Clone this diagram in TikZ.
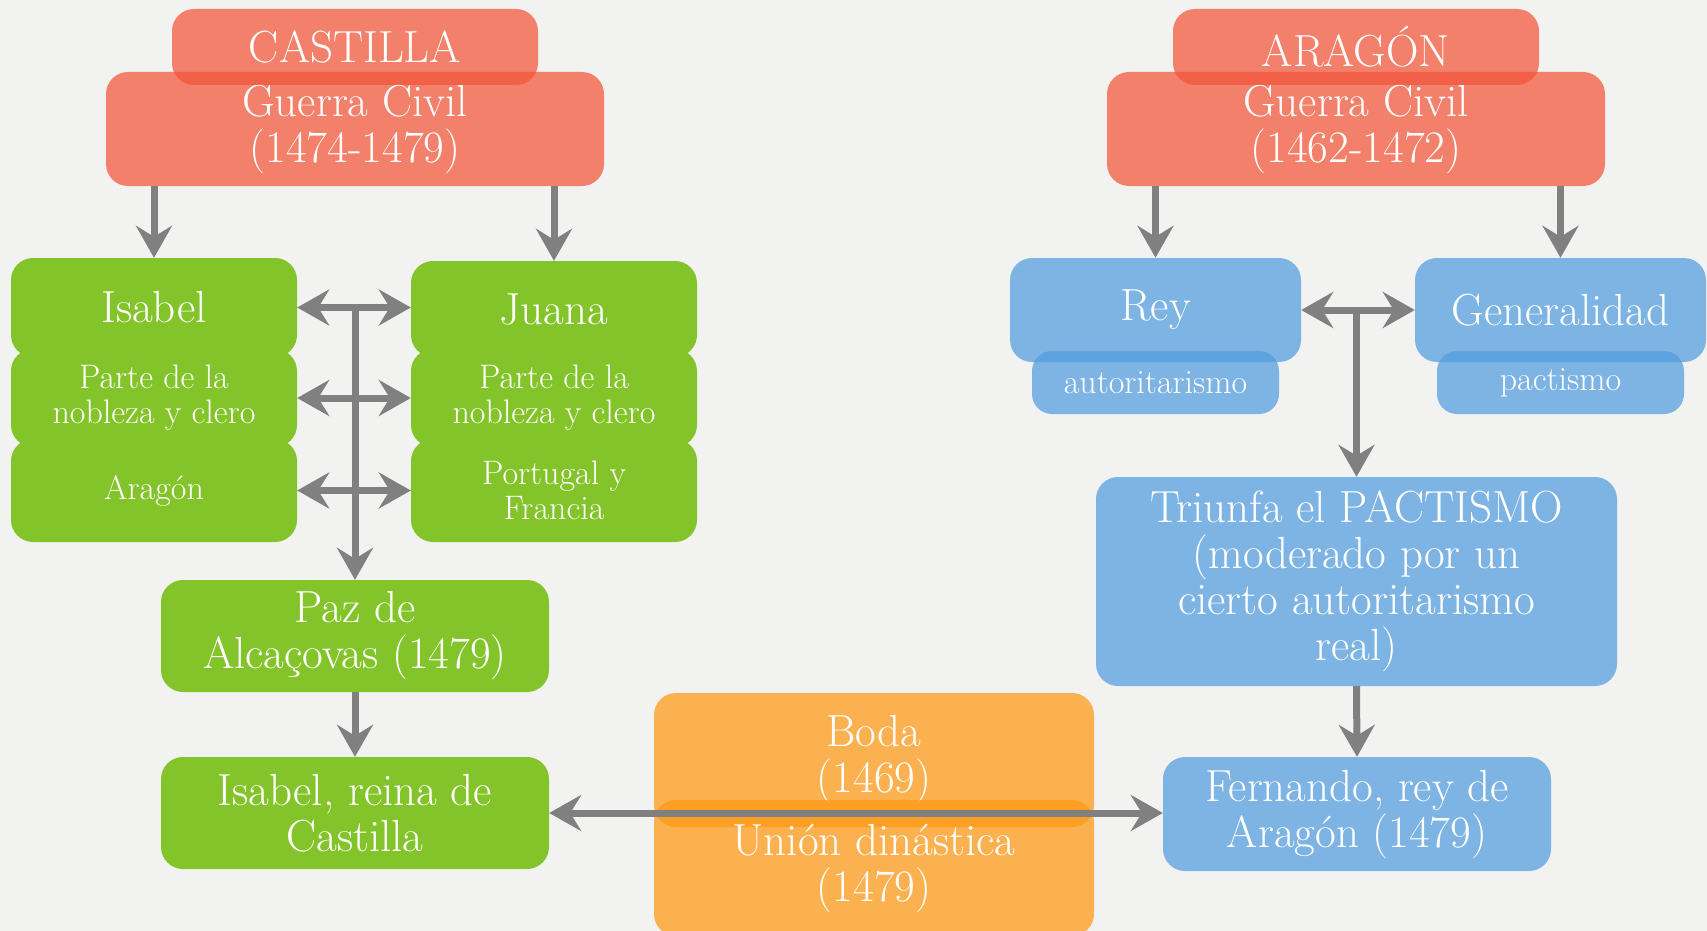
\documentclass[tikz,border=0pt]{standalone}
\usetikzlibrary{arrows.meta}
\definecolor{bgc}{RGB}{242,242,241}
\definecolor{redc}{RGB}{242,86,58}
\definecolor{bluec}{RGB}{82,157,222}
\definecolor{orangec}{RGB}{255,153,20}
\definecolor{greenc}{RGB}{132,196,43}
\definecolor{arrowc}{RGB}{128,128,128}
\tikzset{
  box/.style={rounded corners=22pt, inner sep=0pt, align=center, text=white},
  bigtxt/.style={font=\fontsize{45}{46}\selectfont},
  smalltxt/.style={font=\fontsize{34}{35}\selectfont},
  redbox/.style={box, fill=redc, fill opacity=0.73, text opacity=1},
  bluebox/.style={box, fill=bluec, fill opacity=0.73, text opacity=1},
  orangebox/.style={box, fill=orangec, fill opacity=0.73, text opacity=1},
  greenbox/.style={box, fill=greenc},
  arr/.style={draw=arrowc, line width=7pt, -{Stealth[length=32pt,width=36pt,inset=11pt]}},
  darr/.style={draw=arrowc, line width=7pt, {Stealth[length=32pt,width=36pt,inset=11pt]}-{Stealth[length=32pt,width=36pt,inset=11pt]}}
}
\begin{document}
\begin{tikzpicture}[x=1pt,y=-1pt]
\fill[bgc] (0,0) rectangle (1707,931);
\useasboundingbox (0,0) rectangle (1707,931);

% ---- Castilla ----
\node[redbox, bigtxt, minimum width=498pt, minimum height=114pt] (guerraC) at (355,129) {Guerra Civil\\(1474-1479)};
\node[redbox, bigtxt, minimum width=366pt, minimum height=76pt] (castilla) at (355,47) {CASTILLA};

\node[greenbox, bigtxt, minimum width=286pt, minimum height=99pt] (isabel) at (154,307.5) {Isabel};
\node[greenbox, smalltxt, minimum width=286pt, minimum height=98pt] (parteI) at (154,398) {Parte de la\\nobleza y clero};
\node[greenbox, smalltxt, minimum width=286pt, minimum height=103pt] (aragonI) at (154,490.5) {Arag\'on};

\node[greenbox, bigtxt, minimum width=286pt, minimum height=96pt] (juana) at (554,309) {Juana};
\node[greenbox, smalltxt, minimum width=286pt, minimum height=98pt] (parteJ) at (554,398) {Parte de la\\nobleza y clero};
\node[greenbox, smalltxt, minimum width=286pt, minimum height=103pt] (portugal) at (554,490.5) {Portugal y\\Francia};

\node[greenbox, bigtxt, minimum width=388pt, minimum height=112pt] (paz) at (355,636) {Paz de\\Alca\c{c}ovas (1479)};
\node[greenbox, bigtxt, minimum width=388pt, minimum height=112pt] (isabelR) at (355,813) {Isabel, reina de\\Castilla};

% ---- Boda ----
\node[orangebox, bigtxt, minimum width=440pt, minimum height=134pt] (boda) at (874,760) {Boda\\(1469)};
\node[orangebox, bigtxt, minimum width=440pt, minimum height=136pt] (union) at (874,868) {Uni\'on din\'astica\\(1479)};

% ---- Aragon ----
\node[redbox, bigtxt, minimum width=498pt, minimum height=114pt] (guerraA) at (1356,129) {Guerra Civil\\(1462-1472)};
\node[redbox, bigtxt, minimum width=366pt, minimum height=76pt] (aragon) at (1356,47) {ARAG\'ON};

\node[bluebox, bigtxt, minimum width=291pt, minimum height=104pt] (rey) at (1155.5,310) {Rey};
\node[bluebox, smalltxt, minimum width=247pt, minimum height=63pt, rounded corners=20pt] (autor) at (1155.5,382.5) {autoritarismo};
\node[bluebox, bigtxt, minimum width=291pt, minimum height=104pt] (gen) at (1560.5,310) {Generalidad};
\node[bluebox, smalltxt, minimum width=247pt, minimum height=63pt, rounded corners=20pt] (pact) at (1560.5,382.5) {pactismo};

\node[bluebox, bigtxt, minimum width=521pt, minimum height=209pt] (triunfa) at (1356.5,581.5) {Triunfa el PACTISMO\\(moderado por un\\cierto autoritarismo\\real)};
\node[bluebox, bigtxt, minimum width=388pt, minimum height=114pt] (fernando) at (1357,814) {Fernando, rey de\\Arag\'on (1479)};

% ---- connectors ----
\draw[arr] (isabel.north |- guerraC.south) -- (isabel.north);
\draw[arr] (juana.north |- guerraC.south) -- (juana.north);
\draw[darr] (isabel.east) -- (isabel.east -| juana.west);
\draw[darr] (parteI.east) -- (parteI.east -| parteJ.west);
\draw[darr] (aragonI.east) -- (aragonI.east -| portugal.west);
\draw[arr] (paz.north |- isabel.east) -- (paz.north);
\draw[arr] (paz.south) -- (isabelR.north);

\draw[arr] (rey.north |- guerraA.south) -- (rey.north);
\draw[arr] (gen.north |- guerraA.south) -- (gen.north);
\draw[darr] (rey.east) -- (gen.west);
\draw[arr] (triunfa.north |- rey.east) -- (triunfa.north);
\draw[arr] (triunfa.south) -- (fernando.north);

\draw[darr] (isabelR.east) -- (isabelR.east -| fernando.west);
\end{tikzpicture}
\end{document}
